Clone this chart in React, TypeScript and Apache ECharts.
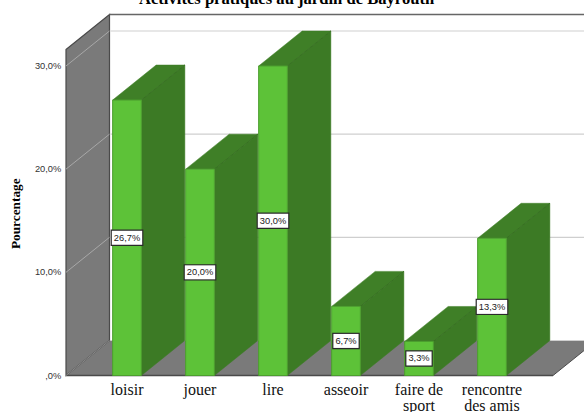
import React, { useEffect, useRef } from "react";
import * as echarts from "echarts";

const titleText = "Activités pratiques au jardin de Bayrouth";
const yAxisName = "Pourcentage";
const categories = ["loisir", "jouer", "lire", "asseoir", "faire de\nsport", "rencontre\ndes amis"];
const percentages = [26.7, 20.0, 30.0, 6.7, 3.3, 13.3];
const yTicks = [0, 10, 20, 30];
const wallTopValue = 31.6;

const depthX = 43.5;
const depthY = 35;
const barRatio = 0.393;
const colors = {
  front: "#5DC238",
  frontEdge: "#4C9E2E",
  side: "#3C7A25",
  top: "#3F7F27",
  edge: "#346B20",
  wall: "#7A7A7A",
  wallEdge: "#4A4A4A",
  grid: "#CFCFCF",
  wallGrid: "#A8A8A8",
  label: "#333333",
};

const fmt = (v: number) => {
  const s = v.toFixed(1).replace(".", ",") + "%";
  return s.startsWith("0,") ? s.slice(1) : s;
};

function renderFrame(params: any, api: any) {
  const cs = params.coordSys;
  const x0 = cs.x - 24.5;
  const x1 = cs.x + cs.width + 24.5;
  const bx0 = x0 + depthX;
  const bx1 = x1 + depthX;
  const y0 = api.coord([0, 0])[1];
  const yTop = api.coord([0, wallTopValue])[1];
  const children: any[] = [
    {
      type: "polygon",
      shape: { points: [[x0, y0], [x1, y0], [bx1, y0 - depthY], [bx0, y0 - depthY]] },
      style: { fill: colors.wall },
    },
    {
      type: "polygon",
      shape: { points: [[x0, yTop], [bx0, yTop - depthY], [bx0, y0 - depthY], [x0, y0]] },
      style: { fill: colors.wall, stroke: colors.wallEdge, lineWidth: 1.2 },
    },
    {
      type: "line",
      shape: { x1: bx0, y1: yTop - depthY, x2: 600, y2: yTop - depthY },
      style: { stroke: "#666666", lineWidth: 1.5 },
    },
    {
      type: "line",
      shape: { x1: x0, y1: y0, x2: x1, y2: y0 },
      style: { stroke: colors.wallEdge, lineWidth: 1.5 },
    },
    {
      type: "line",
      shape: { x1: x1, y1: y0, x2: bx1, y2: y0 - depthY },
      style: { stroke: colors.wallEdge, lineWidth: 1 },
    },
  ];
  yTicks.forEach((t) => {
    const y = api.coord([0, t])[1];
    children.push({
      type: "line",
      shape: { x1: x0, y1: y, x2: bx0, y2: y - depthY },
      style: { stroke: t === 0 ? "#8C8C8C" : colors.wallGrid, lineWidth: 1 },
    });
    children.push({
      type: "line",
      shape: { x1: bx0 + 1, y1: y - depthY, x2: 600, y2: y - depthY },
      style: { stroke: colors.grid, lineWidth: 1.2 },
    });
  });
  return { type: "group", children };
}

function renderBar(params: any, api: any) {
  const idx = api.value(0);
  const val = api.value(1);
  const [cx, yv] = api.coord([idx, val]);
  const y0 = api.coord([idx, 0])[1];
  const band = api.size([1, 0])[0];
  const w = band * barRatio;
  const l = cx - w / 2;
  const r = cx + w / 2;
  return {
    type: "group",
    children: [
      {
        type: "polygon",
        shape: { points: [[r, yv], [r + depthX, yv - depthY], [r + depthX, y0 - depthY], [r, y0]] },
        style: { fill: colors.side, stroke: colors.side, lineWidth: 0.5 },
      },
      {
        type: "polygon",
        shape: { points: [[l, yv], [l + depthX, yv - depthY], [r + depthX, yv - depthY], [r, yv]] },
        style: { fill: colors.top, stroke: colors.top, lineWidth: 0.5 },
      },
      {
        type: "line",
        shape: { x1: r, y1: yv, x2: r + depthX, y2: yv - depthY },
        style: { stroke: colors.edge, lineWidth: 0.8 },
      },
      {
        type: "rect",
        shape: { x: l, y: yv, width: w, height: y0 - yv },
        style: { fill: colors.front, stroke: colors.frontEdge, lineWidth: 1 },
      },
    ],
  };
}

function renderLabel(params: any, api: any) {
  const idx = api.value(0);
  const val = api.value(1);
  const [cx, ym] = api.coord([idx, val / 2]);
  return {
    type: "text",
    x: cx,
    y: ym,
    style: {
      text: fmt(val),
      fontFamily: "Liberation Sans",
      fontSize: 9.3,
      fill: "#222222",
      align: "center",
      verticalAlign: "middle",
      backgroundColor: "#FFFFFF",
      borderColor: "#2A2A2A",
      borderWidth: 1.2,
      padding: [3, 2, 2, 2],
    },
  };
}

export default function App() {
  const ref = useRef<HTMLDivElement>(null);
  useEffect(() => {
    document.body.style.margin = "0";
    const chart = echarts.init(ref.current!, undefined, { renderer: "svg" });
    const barData = percentages.map((v, i) => [i, v]);
    chart.setOption({
      animation: false,
      backgroundColor: "#FFFFFF",
      title: {
        text: titleText,
        left: 139,
        top: -10,
        padding: 0,
        textStyle: { fontFamily: "Liberation Serif", fontSize: 16.6, fontWeight: "bold", color: "#000000" },
      },
      grid: { left: 90.5, right: 55.5, top: 66, bottom: 36.5, outerBoundsMode: "none" },
      xAxis: {
        type: "category",
        data: categories,
        axisLine: { show: false },
        axisTick: { show: false },
        axisLabel: {
          interval: 0,
          margin: 5.5,
          fontFamily: "Liberation Serif",
          fontSize: 16,
          lineHeight: 16.5,
          color: "#111111",
        },
      },
      yAxis: {
        type: "value",
        min: 0,
        max: 30,
        interval: 10,
        name: yAxisName,
        nameLocation: "middle",
        nameGap: 68.5,
        nameTextStyle: {
          fontFamily: "Liberation Serif",
          fontSize: 13.3,
          fontWeight: "bold",
          color: "#000000",
          padding: [0, 0, 0, 14],
        },
        axisLine: { show: false },
        axisTick: { show: false },
        splitLine: { show: false },
        axisLabel: {
          margin: 29.2,
          fontFamily: "Liberation Sans",
          fontSize: 9.3,
          color: colors.label,
          formatter: (v: number) => fmt(v),
        },
      },
      series: [
        { type: "custom", silent: true, clip: false, z: 1, data: [[0, 0]], renderItem: renderFrame },
        { type: "custom", silent: true, clip: false, z: 2, data: barData, renderItem: renderBar },
        { type: "custom", silent: true, clip: false, z: 3, data: barData, renderItem: renderLabel },
      ],
    });
    return () => chart.dispose();
  }, []);
  return <div ref={ref} style={{ width: 584, height: 412 }} />;
}
